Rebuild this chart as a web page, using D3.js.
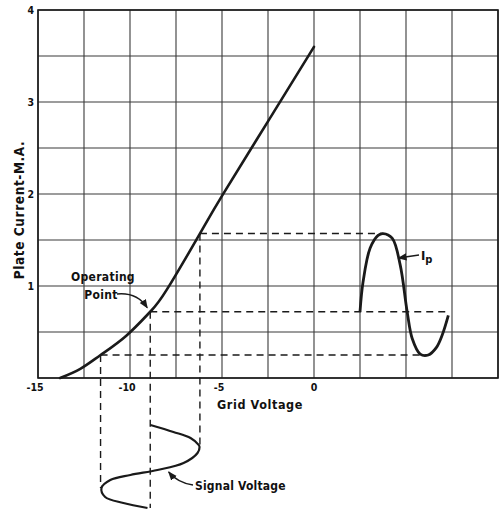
<!DOCTYPE html>
<html>
<head>
<meta charset="utf-8">
<script src="https://cdn.jsdelivr.net/npm/d3@7/dist/d3.min.js"></script>
<style>
  html, body { margin: 0; padding: 0; background: #fff; }
  svg { display: block; }
  text { font-family: 'DejaVu Sans Condensed', 'Liberation Sans Narrow', 'DejaVu Sans', sans-serif; font-weight: bold; font-stretch: condensed; fill: #111; }
</style>
</head>
<body>
<script>
// Tube characteristic: plate current vs grid voltage
const gridVolts = [-13.8, -12.7, -11.6, -10.2, -8.9, -8.0, -6.2, -5.0, -2.5, 0];
const plateMA   = [0, 0.1, 0.25, 0.46, 0.72, 0.96, 1.57, 1.98, 2.79, 3.6];

// Operating point and the swing limits of the grid signal
const opVolts = -8.9, opMA = 0.72;
const maxVolts = -6.2, maxMA = 1.57;
const minVolts = -11.6, minMA = 0.25;

// Output plate current wave (time as fraction of one cycle)
const ipTime = [0, 0.034, 0.114, 0.205, 0.261, 0.364, 0.455, 0.534, 0.591, 0.682, 0.773, 0.864, 0.932, 1.0];
const ipMA   = [0.72, 1.04, 1.41, 1.55, 1.57, 1.52, 1.23, 0.72, 0.43, 0.26, 0.25, 0.33, 0.47, 0.68];

// Input signal voltage wave (time runs downward)
const sigTime  = [0, 0.084, 0.157, 0.24, 0.265, 0.337, 0.458, 0.542, 0.602, 0.663, 0.759, 0.867, 0.94, 1.0];
const sigVolts = [-8.89, -7.64, -6.71, -6.27, -6.22, -6.33, -7.09, -8.51, -9.98, -11.07, -11.55, -11.35, -10.36, -9.05];

// Axis ticks
const xTickLabels = [-15, -10, -5, 0];
const yTickLabels = [1, 2, 3, 4];

const W = 504, H = 510;
const svg = d3.select("body").append("svg").attr("width", W).attr("height", H);

const x = d3.scaleLinear().domain([-15, 10]).range([38, 498]);
const y = d3.scaleLinear().domain([0, 4]).range([378, 10]);
const ipT = d3.scaleLinear().domain([0, 1]).range([x(2.5), x(7.3)]);
const sigT = d3.scaleLinear().domain([0, 1]).range([425, 508]);

const ink = "#1a1a1a";

// defs: arrowhead
svg.append("defs").append("marker")
  .attr("id", "arrow").attr("viewBox", "0 0 10 10").attr("refX", 9).attr("refY", 5)
  .attr("markerWidth", 7).attr("markerHeight", 7).attr("orient", "auto-start-reverse")
  .append("path").attr("d", "M0,1 L10,5 L0,9 Z").attr("fill", ink);

// Grid
const grid = svg.append("g").attr("stroke", "#3a3a3a").attr("stroke-width", 1.1);
d3.range(-15, 10.01, 2.5).forEach(v => {
  grid.append("line").attr("x1", x(v)).attr("x2", x(v)).attr("y1", y(0)).attr("y2", y(4));
});
d3.range(0, 4.01, 0.5).forEach(v => {
  grid.append("line").attr("x1", x(-15)).attr("x2", x(10)).attr("y1", y(v)).attr("y2", y(v));
});
// Frame
svg.append("rect").attr("x", x(-15)).attr("y", y(4))
  .attr("width", x(10) - x(-15)).attr("height", y(0) - y(4))
  .attr("fill", "none").attr("stroke", ink).attr("stroke-width", 1.6);

// Tick labels
svg.append("g").selectAll("text").data(yTickLabels).join("text")
  .attr("x", x(-15) - 4).attr("y", d => y(d) + 4)
  .attr("text-anchor", "end").attr("font-size", 10.5).text(d => d);
svg.append("g").selectAll("text").data(xTickLabels).join("text")
  .attr("x", d => x(d) - (d < 0 ? 3 : 0)).attr("y", y(0) + 13)
  .attr("text-anchor", "middle").attr("font-size", 10.5)
  .text(d => d < 0 ? "-" + Math.abs(d) : d);

// Axis titles
svg.append("text").attr("transform", `translate(24,210) rotate(-90)`)
  .attr("text-anchor", "middle").attr("font-size", 13.5).attr("letter-spacing", 0.6)
  .text("Plate Current-M.A.");
svg.append("text").attr("x", 260).attr("y", 409).attr("text-anchor", "middle")
  .attr("font-size", 12.5).attr("letter-spacing", 0.6).text("Grid Voltage");

// Dashed projection lines
const dash = svg.append("g").attr("stroke", ink).attr("stroke-width", 1.4)
  .attr("stroke-dasharray", "7,5").attr("fill", "none");
const iPeak = d3.maxIndex(ipMA), iTrough = d3.minIndex(ipMA);
// horizontal: curve -> plate current wave
dash.append("line").attr("x1", x(maxVolts)).attr("x2", ipT(ipTime[iPeak])).attr("y1", y(maxMA)).attr("y2", y(maxMA));
dash.append("line").attr("x1", x(opVolts)).attr("x2", ipT(ipTime[ipTime.length - 1])).attr("y1", y(opMA)).attr("y2", y(opMA));
dash.append("line").attr("x1", x(minVolts)).attr("x2", ipT(ipTime[iTrough])).attr("y1", y(minMA)).attr("y2", y(minMA));
// vertical: curve -> grid signal wave
const sPeak = d3.maxIndex(sigVolts), sTrough = d3.minIndex(sigVolts);
dash.append("line").attr("x1", x(maxVolts)).attr("x2", x(maxVolts)).attr("y1", y(maxMA)).attr("y2", sigT(sigTime[sPeak]));
dash.append("line").attr("x1", x(opVolts)).attr("x2", x(opVolts)).attr("y1", y(opMA)).attr("y2", sigT(1));
dash.append("line").attr("x1", x(minVolts)).attr("x2", x(minVolts)).attr("y1", y(minMA)).attr("y2", sigT(sigTime[sTrough]));

// Characteristic curve
const curveLine = d3.line().x((d, i) => x(gridVolts[i])).y(d => y(d)).curve(d3.curveNatural);
svg.append("path").attr("d", curveLine(plateMA))
  .attr("fill", "none").attr("stroke", ink).attr("stroke-width", 2.6).attr("stroke-linecap", "round");

// Plate current wave
const ipLine = d3.line().x((d, i) => ipT(ipTime[i])).y(d => y(d)).curve(d3.curveCatmullRom.alpha(0.5));
svg.append("path").attr("d", ipLine(ipMA))
  .attr("fill", "none").attr("stroke", ink).attr("stroke-width", 2.8);

// Signal voltage wave
const sigLine = d3.line().x(d => x(d)).y((d, i) => sigT(sigTime[i])).curve(d3.curveCatmullRom.alpha(0.5));
svg.append("path").attr("d", sigLine(sigVolts))
  .attr("fill", "none").attr("stroke", ink).attr("stroke-width", 2.2);

// Annotations
svg.append("text").attr("x", 103).attr("y", 281).attr("text-anchor", "middle").attr("font-size", 12).attr("letter-spacing", 0.3).text("Operating");
svg.append("text").attr("x", 101).attr("y", 299).attr("text-anchor", "middle").attr("font-size", 12).attr("letter-spacing", 0.3).text("Point");
svg.append("path").attr("d", `M117,294 Q137,292 ${x(opVolts) - 3},${y(opMA) - 4}`)
  .attr("fill", "none").attr("stroke", ink).attr("stroke-width", 1.3).attr("marker-end", "url(#arrow)");

const ipLabel = svg.append("text").attr("x", 421).attr("y", 260).attr("font-size", 13);
ipLabel.append("tspan").text("I");
ipLabel.append("tspan").attr("dy", 3).attr("font-size", 11).text("p");
svg.append("path").attr("d", `M419,255 L${ipT(0.40) + 3},258`)
  .attr("fill", "none").attr("stroke", ink).attr("stroke-width", 1.3).attr("marker-end", "url(#arrow)");

svg.append("text").attr("x", 195).attr("y", 490).attr("font-size", 12).attr("letter-spacing", 0.2).text("Signal Voltage");
svg.append("path").attr("d", `M193,485 Q178,483 ${x(-7.9)},472`)
  .attr("fill", "none").attr("stroke", ink).attr("stroke-width", 1.3).attr("marker-end", "url(#arrow)");
</script>
</body>
</html>
